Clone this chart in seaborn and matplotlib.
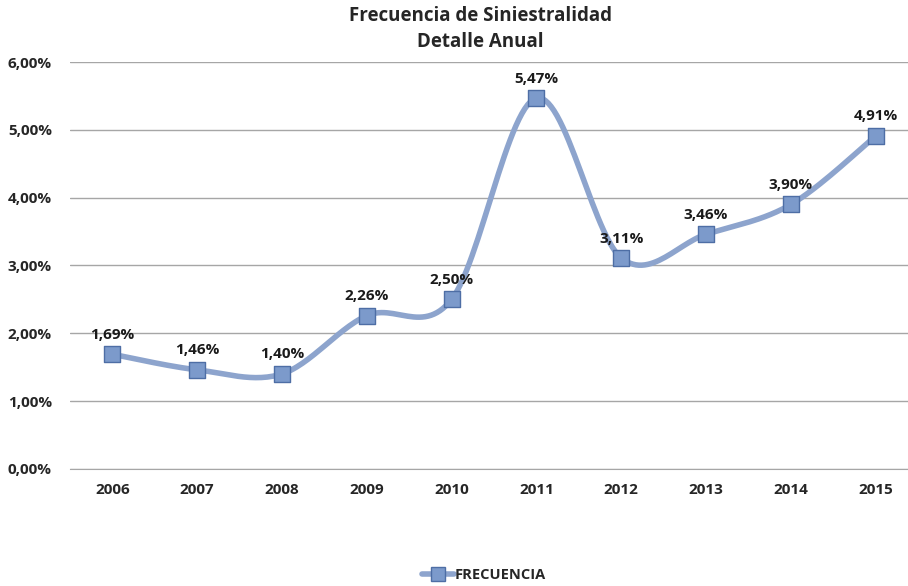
import matplotlib
matplotlib.use("Agg")
import matplotlib.pyplot as plt
import numpy as np
import pandas as pd
import seaborn as sns
from matplotlib.lines import Line2D

years = ["2006", "2007", "2008", "2009", "2010", "2011", "2012", "2013", "2014", "2015"]
frecuencia = [1.69, 1.46, 1.40, 2.26, 2.50, 5.47, 3.11, 3.46, 3.90, 4.91]
y_ticks = [0, 1, 2, 3, 4, 5, 6]

df = pd.DataFrame({"year": years, "freq": frecuencia, "pos": range(len(years))})

sns.set_style("white")
plt.rcParams["font.family"] = ["Open Sans", "DejaVu Sans"]

fig = plt.figure(figsize=(9.08, 5.86), dpi=100)
ax = fig.add_axes([0.077, 0.2, 0.923, 0.694])

# smoothed curve like Excel (Catmull-Rom through the points)
x = df["pos"].to_numpy(dtype=float)
y = df["freq"].to_numpy(dtype=float)
xs, ys = [], []
for i in range(len(x) - 1):
    p0 = (x[i - 1] if i > 0 else x[i], y[i - 1] if i > 0 else y[i])
    p1 = (x[i], y[i])
    p2 = (x[i + 1], y[i + 1])
    p3 = (x[i + 2], y[i + 2]) if i + 2 < len(x) else p2
    t = np.linspace(0, 1, 30)
    for k in range(2):
        a, b, c, d = p0[k], p1[k], p2[k], p3[k]
        c1 = b + (c - a) / 6
        c2 = c - (d - b) / 6
        v = (1 - t) ** 3 * b + 3 * (1 - t) ** 2 * t * c1 + 3 * (1 - t) * t ** 2 * c2 + t ** 3 * c
        (xs if k == 0 else ys).extend(v)
ax.plot(xs, ys, color="#8DA4CD", lw=4, solid_capstyle="round", zorder=2)

sns.scatterplot(data=df, x="pos", y="freq", marker="s", s=120, color="#7C9ACB",
                edgecolor="#4E6EA5", linewidth=1, ax=ax, zorder=3, legend=False)

for px, py in zip(x, y):
    ax.annotate(f"{py:.2f}%".replace(".", ","), (px, py), xytext=(0, 9), textcoords="offset points",
                ha="center", va="bottom", fontsize=11, fontweight="bold", color="#1a1a1a")

ax.set_ylim(0, 6)
ax.set_xlim(-0.5, 9.38)
ax.set_yticks(y_ticks)
ax.set_yticklabels([f"{v:.2f}%".replace(".", ",") for v in y_ticks], fontsize=11, fontweight="bold")
ax.set_xticks(x)
ax.set_xticklabels(years, fontsize=11, fontweight="bold")
ax.tick_params(axis="y", length=0, pad=13)
ax.tick_params(axis="x", length=0, pad=10)
ax.grid(axis="y", color="#A6A6A6", lw=1)
ax.set_axisbelow(True)
for s in ["top", "right", "left"]:
    ax.spines[s].set_visible(False)
ax.spines["bottom"].set_color("#A6A6A6")
ax.set_xlabel("")
ax.set_ylabel("")

fig.text(0.529, 0.972, "Frecuencia de Siniestralidad", ha="center", va="center", fontsize=13.5, fontweight="bold")
fig.text(0.529, 0.928, "Detalle Anual", ha="center", va="center", fontsize=13.5, fontweight="bold")

handle = Line2D([], [], color="#8DA4CD", lw=4, marker="s", markersize=10,
                markerfacecolor="#7C9ACB", markeredgecolor="#4E6EA5")
fig.legend([handle], ["FRECUENCIA"], loc="center", bbox_to_anchor=(0.533, 0.018), frameon=False,
           prop={"size": 10.5, "weight": "bold"}, handlelength=2.2, handletextpad=0.1)

fig.savefig("out.png", dpi=100)
